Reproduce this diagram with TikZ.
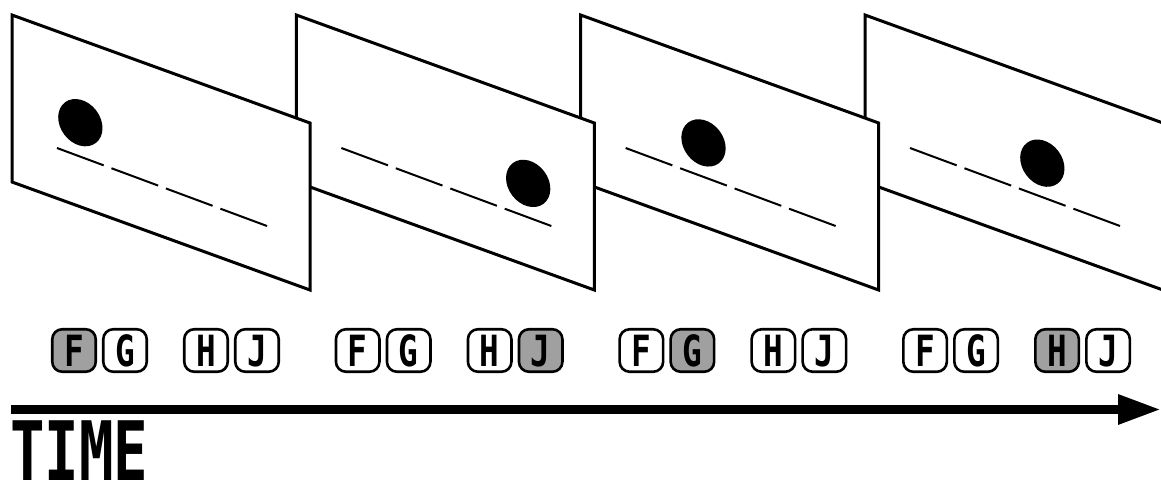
\documentclass[tikz,border=0pt]{standalone}
\usepackage{graphicx}
\usepackage{fontspec}
\newfontfamily\dvmono{DejaVu Sans Mono}
\usetikzlibrary{arrows.meta}
\definecolor{keygray}{RGB}{160,160,160}
\tikzset{
  panel/.style={draw=black, fill=white, line width=3pt, line join=miter},
  dashline/.style={line width=2pt, dash pattern=on 49.8pt off 8.3pt},
  dot/.style={fill=black},
  keybox/.style={draw=black, fill=white, line width=2.6pt, rounded corners=10pt,
    minimum width=43.5pt, minimum height=42.5pt, inner sep=0pt,
    text height=31pt, text depth=0pt},
  keyon/.style={keybox, fill=keygray},
  timearrow/.style={line width=9pt, -{Triangle[length=43pt,width=28pt]}},
  timelabel/.style={anchor=base west, inner sep=0pt, text height=60pt, text depth=0pt},
}
\newcommand{\keylabel}[1]{{\dvmono\bfseries\fontsize{43}{43}\selectfont\scalebox{0.76}[1]{#1}}}
\begin{document}
\begin{tikzpicture}[x=1pt,y=-1pt]
  \useasboundingbox (0,0) rectangle (1161,483);
  \clip (0,0) rectangle (1161,483);
  % panels, drawn back to front
  \foreach \i/\d in {3/2,2/1,1/3,0/0}{
    \pgfmathsetmacro\ox{12+284.33*\i}
    \pgfmathsetmacro\cx{45+23.35+54.5*\d}
    \pgfmathsetmacro\cy{148+(\cx-45)*0.3714-34}
    \begin{scope}[shift={(\ox,0)}]
      \draw[panel] (0,15) -- (298,123) -- (298,290) -- (0,182) -- cycle;
      \draw[dashline] (45,148) -- (255,226);
      \fill[dot, rotate around={-53:(\cx,\cy)}] (\cx,\cy) ellipse [x radius=25.5, y radius=20];
    \end{scope}
  }
  % keys
  \foreach \g/\on in {0/0,1/3,2/1,3/2}{
    \pgfmathsetmacro\gx{51+283.7*\g}
    \foreach \li/\l/\dx in {0/F/0,1/G/51,2/H/132,3/J/183}{
      \def\ks{keybox}
      \ifnum\li=\on\relax \def\ks{keyon}\fi
      \node[\ks] (k\g\l) at (\gx+\dx+23,350.5) {\keylabel{\l}};
    }
  }
  % time arrow
  \coordinate (t0) at (11,409.5);
  \coordinate (t1) at (1161,409.5);
  \draw[timearrow] (t0) -- (t1);
  \node[timelabel] (time) at (10,480.5)
    {\dvmono\bfseries\fontsize{82}{82}\selectfont\scalebox{0.70}[1]{TIME}};
\end{tikzpicture}
\end{document}
